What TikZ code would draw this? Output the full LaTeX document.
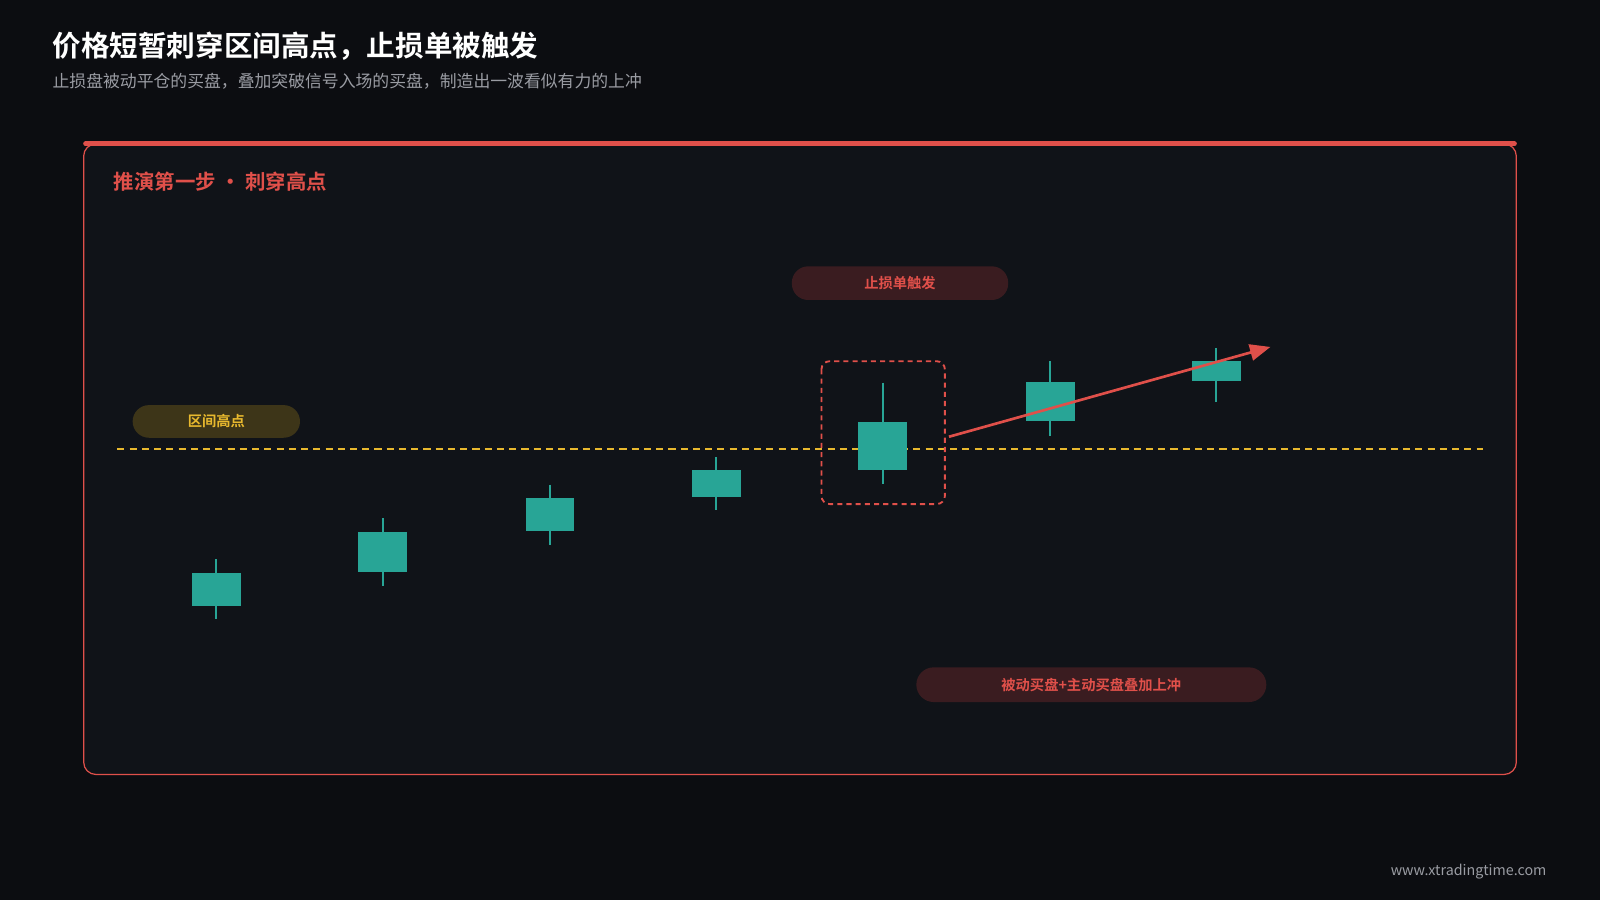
\documentclass[tikz,border=0pt]{standalone}
\usepackage{fontspec}
\setmainfont{Noto Sans CJK SC}
\newfontfamily\cjkb{Noto Sans CJK SC Bold}
\usetikzlibrary{arrows.meta}
\definecolor{bg}{HTML}{0C0D11}
\definecolor{panel}{HTML}{101318}
\definecolor{rd}{HTML}{E0504A}
\definecolor{yl}{HTML}{E8B92E}
\definecolor{teal}{HTML}{28A596}
\definecolor{sub}{HTML}{9A9CA3}
\definecolor{olive}{HTML}{3D3518}
\definecolor{redpill}{HTML}{3A1C20}
\tikzset{
 wick/.style={teal,line width=2.2pt},
 lbl/.style={font=\cjkb\fontsize{14}{16}\selectfont},
}
\begin{document}
\begin{tikzpicture}[x=1pt,y=-1pt]
\fill[bg] (0,0) rectangle (1568,882);
\useasboundingbox (0,0) rectangle (1568,882);
\node[anchor=west,text=white,font=\cjkb\fontsize{28}{32}\selectfont] (title) at (48,45) {价格短暂刺穿区间高点，止损单被触发};
\node[anchor=west,text=sub,font=\fontsize{16.5}{20}\selectfont] (subtitle) at (48,80) {止损盘被动平仓的买盘，叠加突破信号入场的买盘，制造出一波看似有力的上冲};
\draw[rd,fill=panel,line width=1.2pt,rounded corners=12pt] (82,141) rectangle (1486,759);
\draw[rd,line width=5pt,line cap=round] (84,141) -- (1484,141);
\node[anchor=west,text=rd,font=\cjkb\fontsize{20}{24}\selectfont] (ptitle) at (108,178) {推演第一步 · 刺穿高点};
\draw[yl,line width=2pt,dash pattern=on 7pt off 5pt] (115,440) -- (1453,440);
\fill[olive,rounded corners=16pt] (130,397) rectangle (294,429);
\node[text=yl,lbl] (lh) at (212,413) {区间高点};
\fill[redpill,rounded corners=16pt] (776,261) rectangle (988,294);
\node[text=rd,lbl] (ls) at (882,277.5) {止损单触发};
\fill[redpill,rounded corners=17pt] (898,654) rectangle (1241,688);
\node[text=rd,lbl] (lb) at (1069.5,671) {被动买盘+主动买盘叠加上冲};
\foreach \x/\wt/\bt/\bb/\wb in {212/548/562/594/607, 375/508/521/561/574, 539/475/488/520/534, 702/448/461/487/500, 865/375/414/461/474, 1029/354/374/413/427, 1192/341/354/373/394}{
 \draw[wick] (\x,\wt) -- (\x,\wb);
 \fill[teal] (\x-24,\bt) rectangle (\x+24,\bb);
}
\draw[rd,line width=1.8pt,dash pattern=on 5pt off 4pt,rounded corners=8pt] (805,354) rectangle (926,494);
\coordinate (as) at (930,428);
\coordinate (ae) at (1245,340);
\draw[rd,line width=2.6pt,-{Triangle[length=20pt,width=16pt]}] (as) -- (ae);
\node[anchor=east,text=sub,font=\fontsize{14}{16}\selectfont] (foot) at (1519,854) {www.xtradingtime.com};
\end{tikzpicture}
\end{document}
